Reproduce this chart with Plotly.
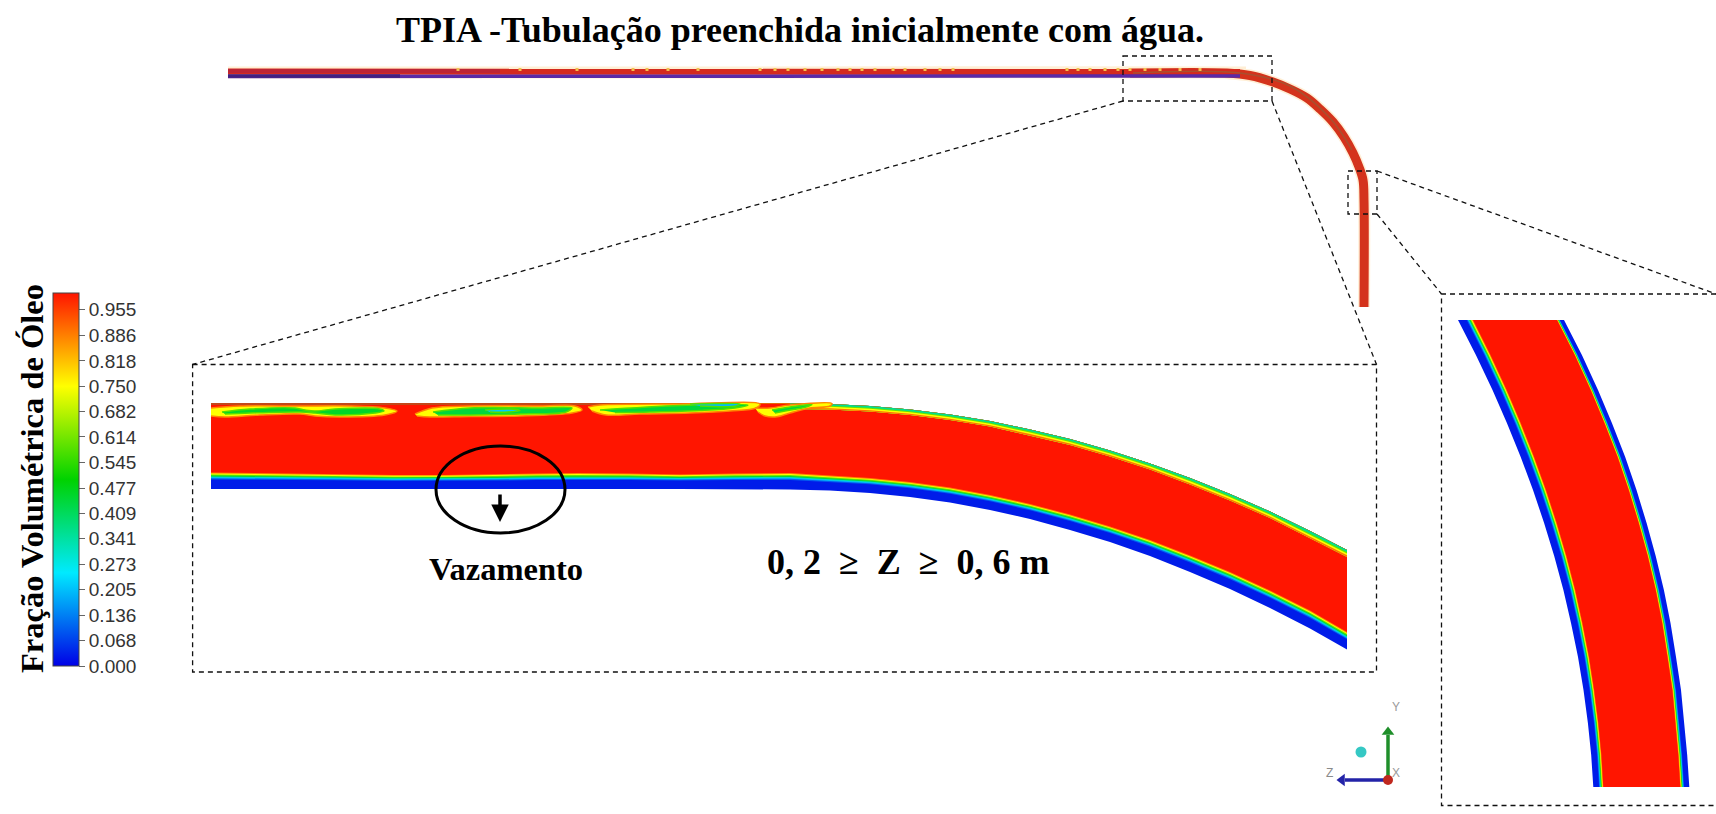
import plotly.graph_objects as go
from plotly.colors import sample_colorscale

W, H = 1716, 814
SERIF = "Liberation Serif"
SANS = "Liberation Sans"

# colour scale of the contour legend
scale = [[0, "#0000e6"], [0.25, "#00eaff"], [0.5, "#00d200"], [0.75, "#ffff00"], [1, "#ff1500"]]
bar_ticks = [0.000, 0.068, 0.136, 0.205, 0.273, 0.341, 0.409, 0.477, 0.545, 0.614, 0.682, 0.750, 0.818, 0.886, 0.955]
bar_labels = ["0.000", "0.068", "0.136", "0.205", "0.273", "0.341", "0.409", "0.477", "0.545", "0.614", "0.682", "0.750", "0.818", "0.886", "0.955"]

# water film layers: fraction from outer wall towards the oil core, and oil fraction
film_frac = [0.00, 0.58, 0.65, 0.71, 0.76, 0.82, 0.88, 0.94, 1.00]
film_val = [0.03, 0.10, 0.20, 0.32, 0.45, 0.60, 0.75, 0.88, 1.00]
crest_frac = [0.00, 0.30, 0.50, 0.75]
crest_val = [0.36, 0.60, 0.75, 0.90]

# left inset: pipe edges
band_x = [211, 272, 334, 394, 445, 496, 537, 578, 629, 680, 735, 790, 830, 870, 910, 950, 990, 1030, 1070, 1110, 1150, 1190, 1230, 1270, 1310, 1347]
band_top = [403, 403, 403, 403, 403, 403, 403, 403, 403, 403, 403, 403.5, 404, 406, 409.5, 414.5, 421, 429.5, 439, 450.5, 463.5, 478, 494, 511.5, 531, 550]
band_low = [472.5, 473.5, 474, 475, 475, 474.5, 473.5, 473, 473.5, 474.5, 473.5, 473, 475.5, 478, 482, 487.5, 495, 504, 514.5, 526.5, 540, 555.5, 572, 590.5, 610.5, 632]
band_bot = [489, 489, 489, 489, 489, 489, 489, 489, 489, 489, 489, 489.5, 490.5, 493, 497, 502.5, 510, 519, 530, 542, 556, 572, 589, 608, 628.5, 649.5]
crest_first = 11
crest_depth = [5.5, 5.5, 5.5, 5.5, 5.5, 5.5, 6, 6, 6, 6, 6.5, 6.5, 6.5, 7, 7]

# left inset: slug structures below the upper wall (oil fraction, x outline, y outline)
slugs = [
    (0.75, [211, 240, 300, 350, 385, 397, 385, 340, 315, 300, 260, 225, 211], [408, 406, 406, 406, 408, 411, 415, 417, 416, 414, 415, 417, 416]),
    (0.46, [222, 250, 295, 305, 315, 335, 380, 384, 375, 335, 315, 300, 250, 225], [412, 409, 408, 410, 411, 409, 409, 411, 413, 415, 413, 412, 413, 414]),
    (0.75, [415, 432, 470, 540, 575, 582, 572, 520, 470, 430, 417], [414, 408, 406, 406, 406, 410, 413, 416, 416.5, 417, 416]),
    (0.44, [433, 470, 540, 572, 566, 520, 470, 438], [412, 408, 408, 408, 412, 414, 415, 415]),
    (0.22, [485, 510, 520, 508, 490], [410, 409, 410.5, 412, 412]),
    (0.75, [588, 600, 680, 760, 756, 730, 690, 640, 606, 592], [407, 405, 404, 404, 408, 411, 413, 414, 415, 411]),
    (0.44, [600, 680, 748, 735, 700, 650, 615], [410, 405.5, 405, 408, 410.5, 412, 412.5]),
    (0.2, [690, 716, 740, 736, 700], [404, 403.5, 404, 406, 406]),
    (0.75, [755, 770, 790, 832, 830, 810, 790, 775, 765, 758], [408, 408, 405, 403.5, 406, 408, 413, 417, 416, 412]),
    (0.44, [772, 790, 812, 806, 785, 775], [410, 407, 404.5, 407, 411, 413]),
]
top_strip_x = [211, 250, 300, 380, 440, 520, 585, 610, 660, 700]
top_strip_y = [404, 404, 404, 404.5, 404, 404, 404, 404, 404, 404]

# right inset: pipe edges by height
bend_y = [320, 355, 390, 423, 457, 490, 523, 556, 590, 623, 657, 690, 723, 755, 787]
bend_left = [1458, 1475.9, 1492.5, 1506.9, 1520.7, 1533, 1544.1, 1554.2, 1563.4, 1571, 1578, 1583.5, 1587.9, 1591.2, 1593.3]
bend_right = [1564, 1581.9, 1598, 1611.9, 1625.2, 1636.5, 1646.6, 1655.7, 1663.9, 1670.5, 1676, 1681, 1684.4, 1687.2, 1689.3]
bend_film_left = [15, 14.6, 14.2, 13.8, 13.4, 13, 12.6, 12.2, 11.8, 11.4, 11, 10.6, 10.4, 10.2, 10]
bend_film_right = [7, 7.2, 7.3, 7.5, 7.6, 7.8, 7.9, 8, 8.2, 8.3, 8.5, 8.6, 8.8, 8.9, 9]

# overview pipe centre lines
pipe_x = [1130, 1227, 1250, 1273, 1290, 1307, 1320, 1333, 1344, 1353, 1359, 1363, 1364, 1364]
pipe_y = [73, 73, 75.5, 82, 89, 98, 109, 122, 137, 153, 167, 180, 200, 307]
run_x = [228, 760, 1240]
run_red_y = [71.5, 71.5, 72]
run_blue_y = [76.5, 76.5, 76]
speck_x = [458, 520, 577, 633, 647, 668, 698, 760, 775, 788, 805, 822, 838, 850, 862, 875, 893, 905, 925, 940, 953, 1067, 1078, 1090, 1105, 1118, 1130, 1145, 1160, 1180, 1200]

# dashed frames and connectors
frames = [(1123, 56, 1272, 101), (1348, 171, 1377, 214), (192.6, 364.5, 1376.5, 672)]
inset2_x = [1716, 1441.5, 1441.5, 1716]
inset2_y = [294, 294, 805.5, 805.5]
links = [((1123, 101), (192.6, 364.5)), ((1272, 101), (1376.5, 364.5)), ((1377, 171), (1716, 294)), ((1377, 214), (1441.5, 294))]

# triad
origin = (1388, 780)
y_tip = (1388, 727)
z_tip = (1337, 780)
ball = (1361, 752)


def col(v):
    return sample_colorscale(scale, [v])[0]


fig = go.Figure()


def poly(xs, ys, v=None, color=None, outline=None, smooth=False):
    fig.add_trace(go.Scatter(x=xs, y=ys, mode="lines", fill="toself", fillcolor=color or col(v),
                             line=dict(width=1.5 if outline else 0, color=outline,
                                       shape="spline" if smooth else "linear"),
                             hoverinfo="skip", showlegend=False))


def stroke(xs, ys, color, width, smooth=False):
    fig.add_trace(go.Scatter(x=xs, y=ys, mode="lines",
                             line=dict(color=color, width=width, shape="spline" if smooth else "linear"),
                             hoverinfo="skip", showlegend=False))


# overview pipe
stroke(run_x + pipe_x[1:], [72.5] * 3 + pipe_y[1:], "rgba(255,190,90,0.25)", 12, True)
stroke(pipe_x, pipe_y, "#d4331c", 9, True)
stroke(run_x, run_red_y, "#d42a1e", 6)
stroke([228, 500], [71, 71], "#bd2434", 4)
stroke(run_x, run_blue_y, "#5a2aa6", 3.5)
stroke([228, 400], [76, 76], "#43207f", 3.5)
stroke([1133, 1240, 1290, 1330, 1352], [73, 73, 86, 118, 150], "#a8502f", 1.5, True)
fig.add_trace(go.Scatter(x=speck_x, y=[69.5] * len(speck_x), mode="markers",
                         marker=dict(symbol="square", size=3, color="#f2c050", line=dict(width=0)),
                         hoverinfo="skip", showlegend=False))

# left inset
for f, v in zip(film_frac, film_val):
    edge = [b - f * (b - l) for b, l in zip(band_bot, band_low)]
    poly(band_x + band_x[::-1], band_top + edge[::-1], v)
crest_x = band_x[crest_first:]
crest_top = band_top[crest_first:]
crest_in = [t + d for t, d in zip(crest_top, crest_depth)]
for f, v in zip(crest_frac, crest_val):
    edge = [t + f * d for t, d in zip(crest_top, crest_depth)]
    poly(crest_x + crest_x[::-1], edge + crest_in[::-1], v)
stroke(top_strip_x, top_strip_y, "#c2481a", 2)
for v, xs, ys in slugs:
    poly(xs, ys, v, outline=col(0.88) if v == 0.75 else col(0.58), smooth=True)

# right inset
for f, v in zip(film_frac, film_val):
    xl = [e + f * d for e, d in zip(bend_left, bend_film_left)]
    xr = [e - f * d for e, d in zip(bend_right, bend_film_right)]
    poly(xl + xr[::-1], bend_y + bend_y[::-1], v)

# triad
stroke([origin[0], y_tip[0]], [origin[1], y_tip[1] + 8], "#1f8f2a", 3.5)
stroke([origin[0], z_tip[0] + 8], [origin[1], z_tip[1]], "#2323a8", 3.5)
fig.add_trace(go.Scatter(x=[y_tip[0]], y=[y_tip[1] + 5], mode="markers",
                         marker=dict(symbol="triangle-up", size=11, color="#1f8f2a"), hoverinfo="skip", showlegend=False))
fig.add_trace(go.Scatter(x=[z_tip[0] + 5], y=[z_tip[1]], mode="markers",
                         marker=dict(symbol="triangle-left", size=11, color="#2323a8"), hoverinfo="skip", showlegend=False))
fig.add_trace(go.Scatter(x=[origin[0]], y=[origin[1]], mode="markers",
                         marker=dict(size=10, color="#c0281e"), hoverinfo="skip", showlegend=False))
fig.add_trace(go.Scatter(x=[ball[0]], y=[ball[1]], mode="markers",
                         marker=dict(size=11, color="#35c8c4"), hoverinfo="skip", showlegend=False))

# colour bar
fig.add_trace(go.Scatter(
    x=[-50], y=[-50], mode="markers", hoverinfo="skip", showlegend=False,
    marker=dict(color=[0.5], colorscale=scale, cmin=0, cmax=1, showscale=True, size=1,
                colorbar=dict(x=53 / W, xanchor="left", xref="paper", y=(H - 666) / H, yanchor="bottom", yref="paper",
                              len=373, lenmode="pixels", thickness=26, thicknessmode="pixels", xpad=0, ypad=0,
                              outlinewidth=1, outlinecolor="#444", tickmode="array", tickvals=bar_ticks,
                              ticktext=bar_labels, ticks="outside", ticklen=6, tickcolor="#666", tickwidth=1,
                              tickfont=dict(family=SANS, size=19, color="#333333")))))

dash = "5px,4px"
shapes = []
for x0, y0, x1, y1 in frames:
    shapes.append(dict(type="rect", xref="x", yref="y", x0=x0, y0=y0, x1=x1, y1=y1,
                       line=dict(color="#111", width=1.3, dash=dash)))
for (x0, y0), (x1, y1) in links:
    shapes.append(dict(type="line", xref="x", yref="y", x0=x0, y0=y0, x1=x1, y1=y1,
                       line=dict(color="#111", width=1.3, dash=dash)))
path = "M" + " L".join(f"{x},{y}" for x, y in zip(inset2_x, inset2_y))
shapes.append(dict(type="path", xref="x", yref="y", path=path, line=dict(color="#111", width=1.3, dash=dash)))
shapes.append(dict(type="circle", xref="x", yref="y", x0=436, y0=446, x1=565, y1=533,
                   line=dict(color="#000", width=3)))


def label(x, y, text, size, family=SERIF, color="#000", angle=0, bold=True):
    t = f"<b>{text}</b>" if bold else text
    return dict(x=x, y=y, xref="x", yref="y", text=t, showarrow=False, textangle=angle,
                font=dict(family=family, size=size, color=color), xanchor="center", yanchor="middle")


annotations = [
    label(800, 30, "TPIA -Tubulação preenchida inicialmente com água.", 36),
    label(32, 479, "Fração Volumétrica de Óleo", 32.5, angle=-90),
    label(506, 569, "Vazamento", 32.5),
    label(908, 562, "0, 2\u00a0 ≥\u00a0 Z\u00a0 ≥\u00a0 0, 6 m", 36),
    label(1396, 707, "Y", 12, SANS, "#9a9a9a", bold=False),
    label(1329, 773, "Z", 12, SANS, "#8a8a8a", bold=False),
    label(1396, 773, "X", 12, SANS, "#9a9a9a", bold=False),
    dict(x=500, y=522, ax=500, ay=493, xref="x", yref="y", axref="x", ayref="y", text="", showarrow=True,
         arrowhead=2, arrowsize=1, arrowwidth=3.5, arrowcolor="#000"),
]

fig.update_layout(
    width=W, height=H, autosize=False, margin=dict(l=0, r=0, t=0, b=0),
    paper_bgcolor="white", plot_bgcolor="white", showlegend=False,
    xaxis=dict(range=[0, W], visible=False, fixedrange=True),
    yaxis=dict(range=[H, 0], visible=False, fixedrange=True),
    shapes=shapes, annotations=annotations,
)

fig.write_html("out.html", config=dict(displayModeBar=False),
               post_script="document.body.style.margin='0';document.body.style.overflow='hidden';")
